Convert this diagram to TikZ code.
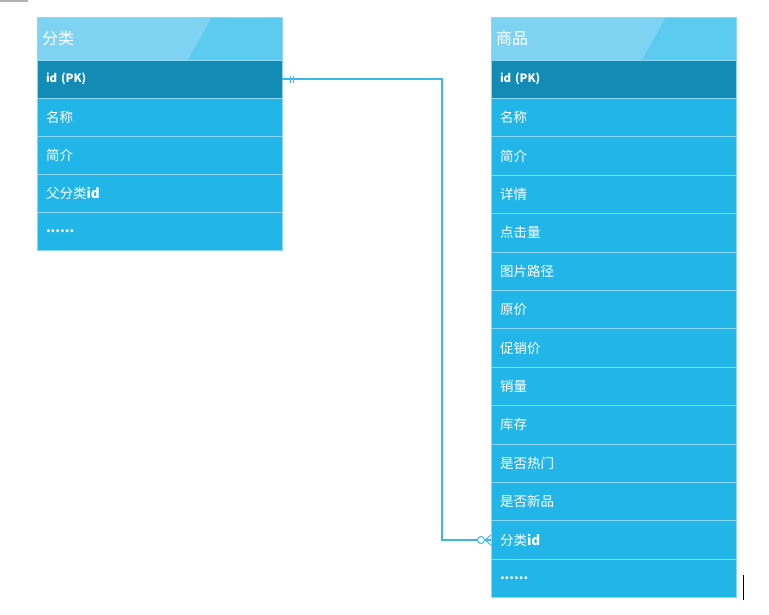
\documentclass[tikz,border=0pt]{standalone}
\usepackage{fontspec}
\setmainfont{Noto Sans CJK SC}
\usetikzlibrary{calc,positioning}

\definecolor{hdrlight}{HTML}{7DD3F1}
\definecolor{hdrdark}{HTML}{5CCBF0}
\definecolor{keyfill}{HTML}{128BB5}
\definecolor{rowfill}{HTML}{22B6E8}
\definecolor{rowline}{HTML}{8AD8F3}
\definecolor{linkcol}{HTML}{3AB8E6}

\begin{document}
\begin{tikzpicture}[x=1pt,y=-1pt,
    header/.style={anchor=north west, fill=hdrlight, draw=rowline, line width=0.8pt,
      outer sep=0pt, minimum width=245pt, minimum height=43pt, inner xsep=5pt,
      text width=235pt, align=left, text=white, font=\fontsize{16}{18}\selectfont,
      path picture={\fill[hdrdark] ([xshift=-70pt]path picture bounding box.north east)
        -- (path picture bounding box.north east) -- (path picture bounding box.south east)
        -- ([xshift=-94pt]path picture bounding box.south east) -- cycle;}},
    field/.style={fill=rowfill, draw=rowline, line width=0.8pt, outer sep=0pt,
      minimum width=245pt, minimum height=38.4pt, inner xsep=9pt,
      text width=227pt, align=left, text=white, font=\fontsize{13.5}{15}\selectfont},
    keyfield/.style={field, fill=keyfill, font=\fontsize{11.5}{13}\selectfont\bfseries},
    link/.style={draw=linkcol, line width=1.3pt}]
    \useasboundingbox (0,0) rectangle (769,614);

    % small marks at the edges of the screenshot
    \draw[gray!60, line width=1.5pt] (0,0.75) -- (28,0.75);
    \draw[black, line width=0.8pt] (743,575) -- (743,600);

    % table 1: category
    \node[header] (cat) at (37,17) {分类};
    \node[keyfield, minimum height=38pt, below=0pt of cat] (cat-1) {id (PK)};
    \foreach \txt [count=\i from 2, evaluate=\i as \j using int(\i-1)] in
      {名称,简介,父分类\textbf{id},\textbf{......}}
      \node[field, minimum height=38pt, below=0pt of cat-\j] (cat-\i) {\txt};

    % table 2: goods
    \node[header] (goods) at (491,17) {商品};
    \node[keyfield, below=0pt of goods] (goods-1) {id (PK)};
    \foreach \txt [count=\i from 2, evaluate=\i as \j using int(\i-1)] in
      {名称,简介,详情,点击量,图片路径,原价,促销价,销量,库存,是否热门,是否新品,分类\textbf{id},\textbf{......}}
      \node[field, below=0pt of goods-\j] (goods-\i) {\txt};

    % relation: one category -- many goods
    \coordinate (bend) at (442,0);
    \draw[link] (cat-1.east) -- (cat-1.east -| bend) |- (goods-13.west);

    % "one" end: two bars
    \draw[link, line width=1pt] ([xshift=8pt,yshift=3.5pt]cat-1.east) -- ++(0,7);
    \draw[link, line width=1pt] ([xshift=11pt,yshift=3.5pt]cat-1.east) -- ++(0,7);

    % "many" end: circle and crow's foot
    \coordinate (foot) at ([xshift=-6pt]goods-13.west);
    \draw[link, line width=1pt] ([yshift=5pt]goods-13.west) -- (foot) -- ([yshift=-5pt]goods-13.west);
    \filldraw[link, line width=1pt, fill=white] ([xshift=-4pt]foot) circle[radius=3.5pt];
\end{tikzpicture}
\end{document}
